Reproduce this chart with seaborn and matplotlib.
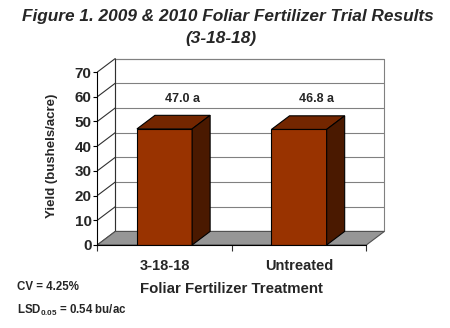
import matplotlib
matplotlib.use("Agg")
import matplotlib.pyplot as plt
import seaborn as sns
from matplotlib.patches import Polygon
from matplotlib.lines import Line2D

# ---- data ----
treatments = ["3-18-18", "Untreated"]
yields = [47.0, 46.8]
letters = ["a", "a"]
yticks = [0, 10, 20, 30, 40, 50, 60, 70]
title1 = "Figure 1. 2009 & 2010 Foliar Fertilizer Trial Results"
title2 = "(3-18-18)"
xlabel = "Foliar Fertilizer Treatment"
ylabel = "Yield (bushels/acre)"
cv_text = "CV = 4.25%"
lsd_text = "LSD$_{0.05}$ = 0.54 bu/ac"

sns.set_style("white")
plt.rcParams["font.family"] = ["Liberation Sans", "DejaVu Sans"]
plt.rcParams["font.weight"] = "bold"
plt.rcParams["mathtext.fontset"] = "custom"
plt.rcParams["mathtext.rm"] = "Liberation Sans:bold"
plt.rcParams["mathtext.it"] = "Liberation Sans:bold"
plt.rcParams["mathtext.bf"] = "Liberation Sans:bold"
plt.rcParams["mathtext.default"] = "rm"

fig = plt.figure(figsize=(4.5, 3.28), dpi=100)
ax = fig.add_axes([97.25 / 450, 83 / 328, 296 / 450, 197.6 / 328])

front = "#993300"
top_c = "#732600"
side_c = "#4a1900"
dx, dy = 0.134, 5.5
x0, x1 = -0.5, 1.5
ymax = 70

sns.barplot(x=treatments, y=yields, color=front, width=0.41, saturation=1,
            edgecolor="black", linewidth=0.8, ax=ax, zorder=5)

# back wall
ax.add_patch(Polygon([(x0 + dx, dy), (x1 + dx, dy), (x1 + dx, ymax + dy), (x0 + dx, ymax + dy)],
                     closed=True, facecolor="white", edgecolor="#808080", lw=0.8, zorder=0.5))
for v in yticks[1:]:
    ax.add_line(Line2D([x0 + dx, x1 + dx], [v + dy, v + dy], color="#808080", lw=0.8, zorder=0.6))
# left wall lines
for v in yticks:
    ax.add_line(Line2D([x0, x0 + dx], [v, v + dy], color="#303030", lw=0.8, zorder=0.7))
ax.add_line(Line2D([x0 + dx, x0 + dx], [dy, ymax + dy], color="#303030", lw=0.8, zorder=0.7))
# floor
ax.add_patch(Polygon([(x0, 0), (x1, 0), (x1 + dx, dy), (x0 + dx, dy)], closed=True,
                     facecolor="#969696", edgecolor="#505050", lw=0.8, zorder=1))

# 3D faces of bars
for p, lab, val in zip(ax.patches[:len(yields)], letters, yields):
    bx, bw, bh = p.get_x(), p.get_width(), p.get_height()
    ax.add_patch(Polygon([(bx, bh), (bx + bw, bh), (bx + bw + dx, bh + dy), (bx + dx, bh + dy)],
                         closed=True, facecolor=top_c, edgecolor="black", lw=0.8, zorder=5))
    ax.add_patch(Polygon([(bx + bw, 0), (bx + bw + dx, dy), (bx + bw + dx, bh + dy), (bx + bw, bh)],
                         closed=True, facecolor=side_c, edgecolor="black", lw=0.8, zorder=5))
    ax.text(bx + bw / 2 + 0.13, 59, f"{val:.1f} {lab}", ha="center", va="center",
            fontsize=9, fontweight="bold", zorder=6)

ax.set_xlim(-0.5, 1.7)
ax.set_ylim(0, 80)
ax.set_yticks(yticks)
ax.set_yticklabels([str(v) for v in yticks], fontsize=11, fontweight="bold")
for s in ["top", "right"]:
    ax.spines[s].set_visible(False)
ax.spines["left"].set_bounds(0, 70)
ax.spines["bottom"].set_bounds(x0, x1)
for s in ["left", "bottom"]:
    ax.spines[s].set_color("black")
    ax.spines[s].set_linewidth(0.8)
    ax.spines[s].set_zorder(7)
ax.tick_params(axis="y", which="major", left=True, length=3, width=0.8, color="black", pad=1)
ax.set_xticks([0, 1])
ax.set_xticklabels(treatments, fontsize=10.5, fontweight="bold")
ax.set_xticks([-0.5, 0.5, 1.5], minor=True)
ax.tick_params(axis="x", which="major", length=0, pad=10)
ax.tick_params(axis="x", which="minor", bottom=True, length=4, width=0.8, color="#303030")

ax.set_xlabel(xlabel, fontsize=10.8, fontweight="bold")
ax.xaxis.set_label_coords(1.0 / 2.2, -0.185)
ax.set_ylabel(ylabel, fontsize=9.5, fontweight="bold")
ax.yaxis.set_label_coords(-0.133, 0.45)

fig.text(228 / 450, 1 - 17 / 328, title1, ha="center", va="center", fontsize=12.4,
         fontweight="bold", fontstyle="italic")
fig.text(221 / 450, 1 - 38 / 328, title2, ha="center", va="center", fontsize=12.4,
         fontweight="bold", fontstyle="italic")
fig.text(17 / 450, 1 - 287 / 328, cv_text, ha="left", va="center", fontsize=8.3, fontweight="bold")
fig.text(17 / 450, 1 - 310 / 328, lsd_text, ha="left", va="center", fontsize=8.3, fontweight="bold")

fig.savefig("out.png", dpi=100)
